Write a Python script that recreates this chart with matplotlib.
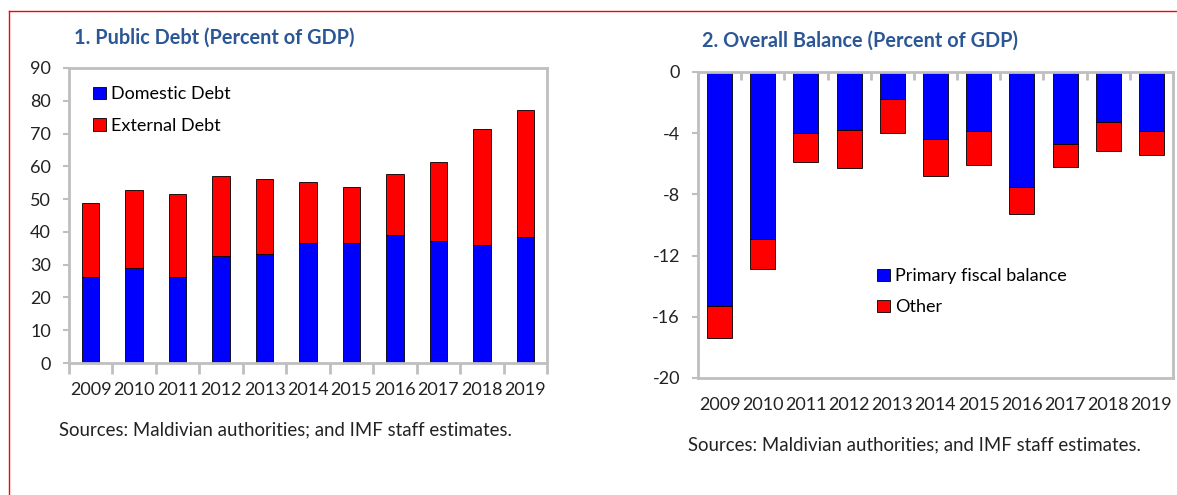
import matplotlib
matplotlib.use("Agg")
import matplotlib.pyplot as plt
from matplotlib.lines import Line2D
import numpy as np

plt.rcParams['font.family'] = ['Lato', 'DejaVu Sans']
plt.rcParams['axes.unicode_minus'] = False

years = ['2009', '2010', '2011', '2012', '2013', '2014', '2015', '2016', '2017', '2018', '2019']

# Panel 1: public debt (percent of GDP)
domestic_debt = [26.2, 29.0, 26.2, 32.7, 33.3, 36.5, 36.5, 39.2, 37.2, 35.9, 38.5]
external_debt = [22.5, 23.9, 25.4, 24.4, 22.8, 18.7, 17.1, 18.6, 24.2, 35.6, 38.6]

# Panel 2: overall balance (percent of GDP)
primary_balance = [-15.3, -10.9, -4.0, -3.8, -1.75, -4.35, -3.85, -7.5, -4.7, -3.3, -3.85]
other_balance = [-2.1, -1.95, -1.85, -2.45, -2.25, -2.45, -2.2, -1.8, -1.5, -1.85, -1.55]

BLUE = '#0000ff'
RED = '#ff0000'
GRAY = '#bfbfbf'
TITLE = '#2b5797'
TXT = '#222222'
W, H = 1177, 495

fig = plt.figure(figsize=(W/100, H/100), dpi=100)
x = np.arange(len(years))

# red frame
fig.add_artist(Line2D([9/W, 1], [1-11/H, 1-11/H], transform=fig.transFigure, color='red', lw=1))
fig.add_artist(Line2D([9/W, 9/W], [0, 1-11/H], transform=fig.transFigure, color='red', lw=1))


def style_axes(ax):
    for s in ax.spines.values():
        s.set_color(GRAY)
        s.set_linewidth(2)
    ax.tick_params(axis='y', colors=GRAY, labelcolor=TXT, labelsize=13, length=4, width=1.5, pad=9)
    ax.set_xticks(np.arange(-0.5, len(years), 1))
    ax.set_xticks(x, minor=True)
    ax.set_xticklabels(years, minor=True)
    ax.tick_params(axis='x', which='major', labelbottom=False, colors=GRAY, width=2)
    ax.tick_params(axis='x', which='minor', length=0, labelsize=13, labelcolor=TXT, pad=14)
    ax.set_xlim(-0.5, len(years) - 0.5)


leg_kw = dict(frameon=False, fontsize=13, handlelength=0.7, handleheight=0.7,
              handletextpad=0.3, labelspacing=0.85, borderaxespad=0, borderpad=0)

# ---- panel 1 ----
ax1 = fig.add_axes([69/W, 1-363/H, 478/W, 295/H])
ax1.bar(x, domestic_debt, width=0.4, color=BLUE, edgecolor='black', lw=0.6, label='Domestic Debt')
ax1.bar(x, external_debt, width=0.4, bottom=domestic_debt, color=RED, edgecolor='black', lw=0.6, label='External Debt')
style_axes(ax1)
ax1.set_ylim(0, 90)
ax1.set_yticks(range(0, 91, 10))
ax1.tick_params(axis='x', which='major', length=8, direction='out')
ax1.legend(loc='upper left', bbox_to_anchor=(0.05, 0.938), **leg_kw)
fig.text(74/W, 1-38/H, '1. Public Debt (Percent of GDP)', color=TITLE, fontsize=14.3, fontweight='bold', va='center')
fig.text(59/W, 1-430/H, 'Sources: Maldivian authorities; and IMF staff estimates.', color=TXT, fontsize=13.4, va='center')

# ---- panel 2 ----
ax2 = fig.add_axes([698/W, 1-378/H, 475/W, 306/H])
ax2.bar(x, primary_balance, width=0.58, color=BLUE, edgecolor='black', lw=0.6, label='Primary fiscal balance')
ax2.bar(x, other_balance, width=0.58, bottom=primary_balance, color=RED, edgecolor='black', lw=0.6, label='Other')
style_axes(ax2)
ax2.set_ylim(-20, 0)
ax2.set_yticks(range(-20, 1, 4))
ax2.tick_params(axis='x', which='major', top=True, bottom=False, direction='in', length=6)
ax2.legend(loc='upper left', bbox_to_anchor=(0.377, 0.359), **leg_kw)
fig.text(702/W, 1-41/H, '2. Overall Balance (Percent of GDP)', color=TITLE, fontsize=14.3, fontweight='bold', va='center')
fig.text(688/W, 1-445/H, 'Sources: Maldivian authorities; and IMF staff estimates.', color=TXT, fontsize=13.4, va='center')

fig.savefig('out.png', dpi=100)
